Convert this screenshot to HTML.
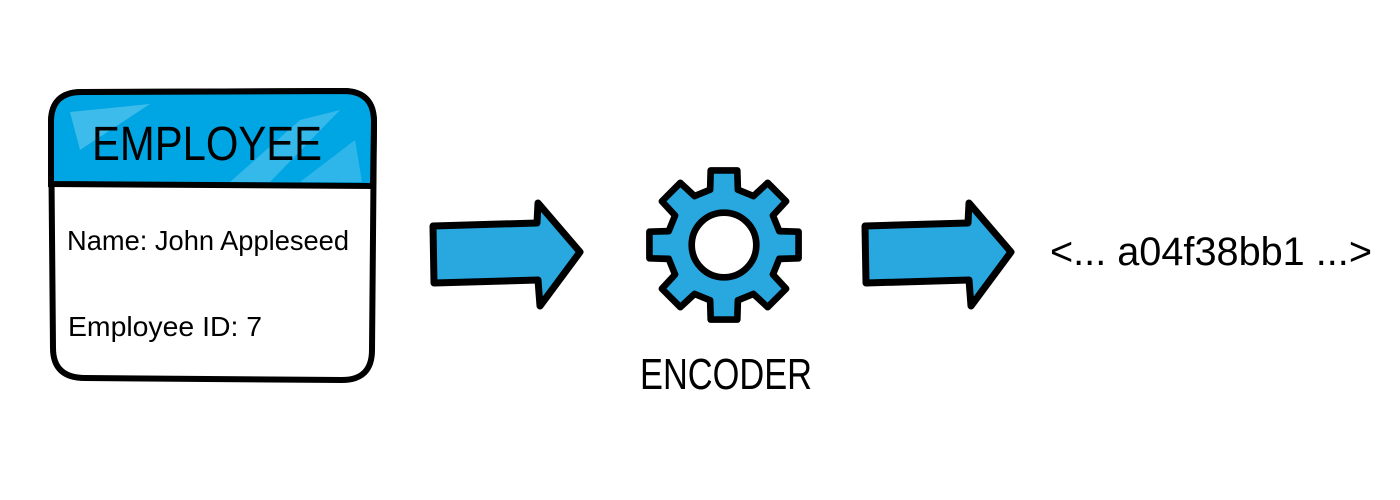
<!DOCTYPE html>
<html><head><meta charset="utf-8"><style>
html,body{margin:0;padding:0;background:#fff;}
svg{display:block;}
text{font-family:"Liberation Sans",sans-serif;fill:#000;}
</style></head><body>
<svg width="1400" height="500" viewBox="0 0 1400 500" xmlns="http://www.w3.org/2000/svg">
<path d="M82,92 L345,91 Q374,92 374,122 L372,350 Q372,380 342,380 L85,378 Q53,378 53,348 L51,122 Q51,92 82,92 Z" fill="#fff" stroke="#000" stroke-width="6"/>
<path d="M82,92 L345,91 Q374,92 374,122 L373,186 L51,184 L51,122 Q51,92 82,92 Z" fill="#00a6e4" stroke="#000" stroke-width="6"/>
<polygon points="70,112 150,104 80,150" fill="#4cc0ec" opacity="0.8"/>
<polygon points="230,182 300,120 340,110 270,182" fill="#4cc0ec" opacity="0.7"/>
<polygon points="300,182 355,140 362,182" fill="#4cc0ec" opacity="0.6"/>
<text x="92" y="160" font-size="48" textLength="230" lengthAdjust="spacingAndGlyphs">EMPLOYEE</text>
<text x="67" y="250" font-size="28" textLength="282" lengthAdjust="spacingAndGlyphs">Name: John Appleseed</text>
<text x="68" y="336" font-size="28" textLength="194" lengthAdjust="spacingAndGlyphs">Employee ID: 7</text>
<path d="M433,226 L537,223 L538,203 L580,252 L540,306 L538,280 L434,283 Z" fill="#29a8e0" stroke="#000" stroke-width="7" stroke-linejoin="round"/>
<path d="M865,226 L968,223 L969,203 L1011,252 L971,306 L969,280 L866,283 Z" fill="#29a8e0" stroke="#000" stroke-width="7" stroke-linejoin="round"/>
<g transform="translate(724,245) scale(0.95)">
<polygon points="58.2,-14.6 78.5,-14.0 78.5,14.0 58.2,14.6 51.5,31.0 65.4,46.0 46.0,65.4 31.0,51.5 14.6,58.2 14.0,78.5 -14.0,78.5 -14.6,58.2 -31.0,51.5 -46.0,65.4 -65.4,46.0 -51.5,31.0 -58.2,14.6 -78.5,14.0 -78.5,-14.0 -58.2,-14.6 -51.5,-31.0 -65.4,-46.0 -46.0,-65.4 -31.0,-51.5 -14.6,-58.2 -14.0,-78.5 14.0,-78.5 14.6,-58.2 31.0,-51.5 46.0,-65.4 65.4,-46.0 51.5,-31.0" fill="#29a8e0" stroke="#000" stroke-width="7" stroke-linejoin="round"/>
<circle cx="0" cy="0" r="34" fill="#fff" stroke="#000" stroke-width="7"/>
</g>
<text x="640" y="389" font-size="44" textLength="172" lengthAdjust="spacingAndGlyphs">ENCODER</text>
<text x="1050" y="265" font-size="40" textLength="322" lengthAdjust="spacingAndGlyphs">&lt;... a04f38bb1 ...&gt;</text>
</svg>
</body></html>
